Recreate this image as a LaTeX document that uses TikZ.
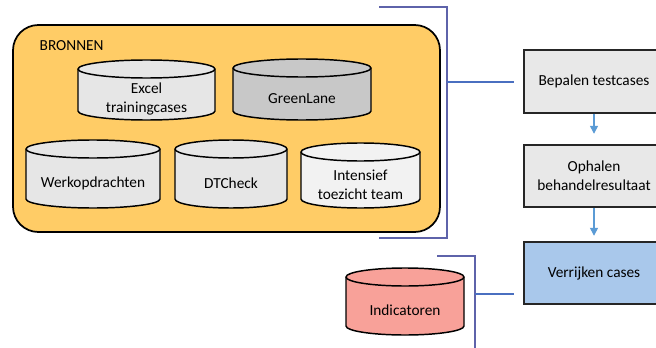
\documentclass[tikz,border=0pt]{standalone}
\usepackage{fontspec}
\setmainfont{Carlito}
\usetikzlibrary{arrows.meta}
\definecolor{bronoranje}{HTML}{FFCC66}
\definecolor{vatgrijs}{HTML}{E6E6E6}
\definecolor{vatdonker}{HTML}{C8C8C8}
\definecolor{vatlicht}{HTML}{F2F2F2}
\definecolor{vatrood}{HTML}{F8A199}
\definecolor{stapgrijs}{HTML}{E8E8E8}
\definecolor{stapblauw}{HTML}{A9C8EB}
\definecolor{haakblauw}{HTML}{5E63AA}
\definecolor{lijnblauw}{HTML}{4A6FC0}
\definecolor{pijlblauw}{HTML}{5B9BD5}
\def\datavat[#1](#2,#3)(#4,#5)#6#7{
	\filldraw[line width=1.1pt, fill=#1] (#2,#4-9) -- (#2,#5+9) arc (180:360:{(#3-#2)/2} and 9) -- (#3,#4-9) arc (0:180:{(#3-#2)/2} and 9) -- cycle;
	\draw[line width=1.1pt] (#2,#4-9) arc (180:360:{(#3-#2)/2} and 9);
	\node[align=center] (#6) at ({(#2+#3)/2},{(#4+#5-18)/2}) {#7};
}
\tikzset{
	stapbox/.style={draw=black!85, line width=1.3pt, minimum width=105pt, minimum height=47pt, align=center},
	haak/.style={draw=haakblauw, line width=1.6pt},
	haaklijn/.style={draw=lijnblauw, line width=1.6pt, shorten >=6.75pt},
	stappijl/.style={draw=pijlblauw, line width=1pt, -{Triangle[width=6pt,length=6pt]}}
}

\begin{document}
\begin{tikzpicture}[x=0.75pt, y=0.75pt, font=\fontsize{11.5}{14}\selectfont]
	%%%%% START %%%%%
	\useasboundingbox (0,0) rectangle (656,347);
	\clip (0,0) rectangle (656,347);
	
	\filldraw[line width=1.3pt, fill=bronoranje, rounded corners=19pt] (13,115) rectangle (440,322);
	\node[anchor=west] (bronnen) at (35,301) {BRONNEN};
	
	\datavat[vatgrijs](78,215)(287,227){excel}{Excel\\trainingcases}
	\datavat[vatdonker](233,371)(288,227){greenlane}{GreenLane}
	\datavat[vatgrijs](26,160)(207,139){werk}{Werkopdrachten}
	\datavat[vatgrijs](175,287)(207,139){dtcheck}{DTCheck}
	\datavat[vatlicht](301,420)(204,139){intensief}{Intensief\\toezicht team}
	
	\datavat[vatrood](346,464)(79,12){indicatoren}{Indicatoren}
	
	\node[stapbox, fill=stapgrijs] (bepalen) at (594,265.5) {Bepalen testcases};
	\node[stapbox, fill=stapgrijs] (ophalen) at (594,171) {Ophalen\\behandelresultaat};
	\node[stapbox, fill=stapblauw] (verrijken) at (594,74) {Verrijken cases};
	
	\draw[stappijl, shorten >=7.5pt] (bepalen) -- (ophalen);
	\draw[stappijl, shorten >=3.75pt] (ophalen) -- (verrijken);
	
	\draw[haak] (379,340) -- (447,340) -- (447,109) -- (379,109);
	\coordinate (haak1) at (447,265);
	\draw[haaklijn] (haak1) -- (haak1 -| bepalen.west);
	
	\draw[haak] (437,91) -- (475,91) -- (475,-2) -- (437,-2);
	\coordinate (haak2) at (475,53);
	\draw[haaklijn] (haak2) -- (haak2 -| verrijken.west);
	%%%%% END %%%%%
\end{tikzpicture}
\end{document}
